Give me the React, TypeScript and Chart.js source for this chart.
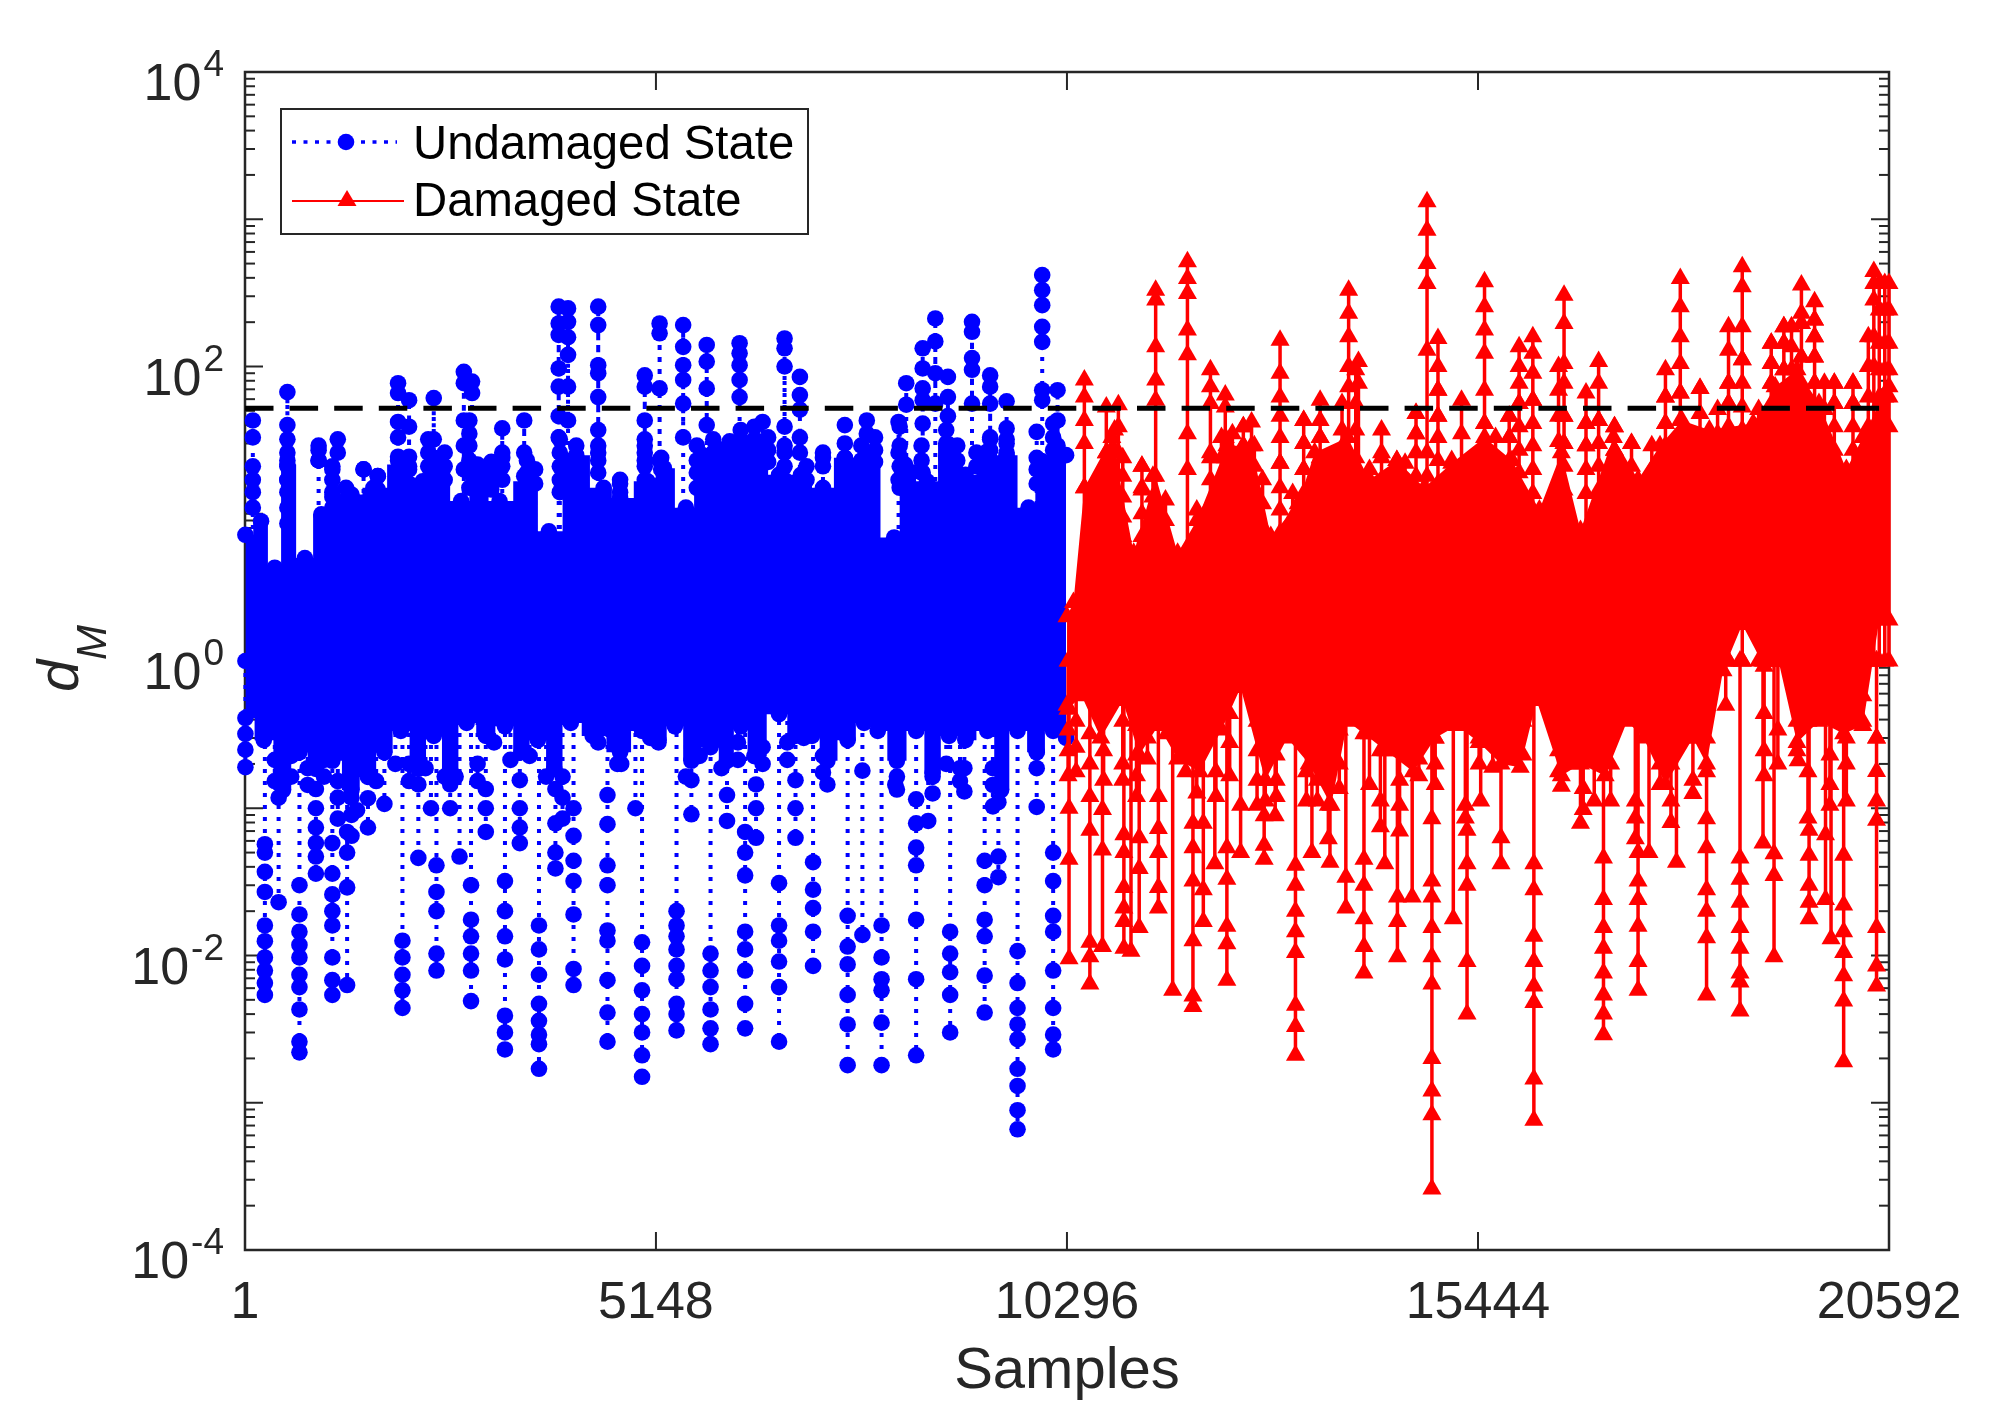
import React, { useEffect, useRef } from "react";
import { Chart, registerables } from "chart.js";

Chart.register(...registerables);

const seriesNames = ["Undamaged State", "Damaged State"];
const xTicks = [1, 5148, 10296, 15444, 20592];
const yTickExponents = [4, 2, 0, -2, -4];
const threshold = 52;

// Dense part of each record: outer edge of the solid band.
const undamagedBandUpperX = [6,202,374,532,751,957,1163,1335,1609,1953,2227,2433,2708,2914,3189,3532,3807,4150,4493,4699,5042,5248,5523,5729,6072,6416,6690,6965,7240,7514,7789,8132,8269,8544,8819,9025,9299,9540,9814,9986,10192,10285];
const undamagedBandUpperY = [7.2,8.9,4.3,21.6,5,9.9,11.5,13.5,15,21.6,16.6,22.7,12.2,21.6,12.2,16.6,7.6,25,15,12.8,16.6,20.4,11,25,31,31,18.4,18.4,15,24,25,6.9,21.6,16.6,29.5,18.4,26.5,25,11,22.7,25,25];
const undamagedBandLowerX = [6,236,477,683,889,1095,1335,1541,1747,1953,2172,2365,2571,2777,3017,3257,3463,3669,3875,4081,4356,4699,4974,5180,5386,5592,5832,6038,6210,6381,6690,6896,7102,7295,7549,7755,7926,8166,8407,8613,8819,9025,9299,9471,9677,9917,10123,10285];
const undamagedBandLowerY = [.41,.29,.133,.24,.185,.21,.133,.163,.24,.335,.185,.31,.163,.38,.31,.36,.24,.29,.185,.38,.31,.24,.335,.29,.36,.21,.26,.21,.36,.226,.435,.31,.31,.21,.29,.38,.335,.21,.335,.173,.31,.29,.335,.133,.335,.24,.335,.3];
const damagedBandUpperX = [10297,10377,10514,10858,11132,11407,11682,11922,12299,12608,12849,13192,13398,13810,14085,14428,14771,15115,15526,15870,16213,16488,16728,17140,17449,17724,17998,18342,18891,19165,19440,19715,20058,20264,20470,20592];
const damagedBandUpperY = [2,2.5,15,33,5.4,18,5.4,9,29,29,7,11.7,26,33,17,23,15,22,33,23,10.6,26,7.7,33,17,29,43,37,41,73,95,56,20,33,56,73];
const damagedBandLowerX = [10297,10308,10480,10720,10995,11201,11441,11682,11956,12231,12471,12780,13055,13329,13604,13810,14016,14291,14634,14908,15183,15458,15732,15973,16179,16488,16728,17037,17312,17518,17792,18136,18307,18513,18754,19028,19200,19440,19715,20024,20264,20470,20592];
const damagedBandLowerY = [.5,.47,.58,.30,.54,.23,.365,.216,.177,.34,.66,.155,.30,.20,.105,.39,.32,.246,.177,.30,.365,.28,.20,.19,.54,.166,.20,.166,.39,.30,.145,.30,.20,.86,1.77,.92,1.05,.28,.39,.32,.365,1.9,1.9];

// Excursions below the band: sample of the excursion, then the readings along it.
const undamagedLowX = [6,250,422,683,889,1095,1280,1541,1747,1884,1973,2172,2330,2399,2571,2688,2832,3017,3257,3443,3683,3889,4116,4541,4713,4891,4974,5180,5406,5592,5832,6038,6265,6402,6690,6896,7116,7295,7549,7734,7974,8146,8407,8558,8833,9011,9265,9437,9677,9917,10123];
const undamagedLowY = [
  [.32,.25,.19],[.057,.05,.037,.027,.016,.0125,.0097,.0079,.0065,.0054],[.118,.023],
  [.03,.019,.0145,.0118,.0097,.0074,.0061,.0043,.0026,.0022],[.135,.1,.074,.058,.047,.036],
  [.058,.036,.026,.02,.016,.0097,.0068,.0054],[.069,.05,.029,.0063],[.117,.074],[.107],[.2],
  [.0126,.0097,.0074,.0058,.0044],[.145,.046],[.1],[.041,.027,.02,.0103,.0079],[.145,.1],[.047],
  [.03,.0175,.0135,.0103,.0079,.0049],[.135,.1,.069],[.032,.02,.0135,.0094,.0039,.003,.0023],
  [.155,.1,.074,.058],[.016,.011,.0074,.0047,.0036,.0029,.0025,.0017],[.135,.079,.05,.039],
  [.1,.065,.044,.032,.019,.0081,.0063],[.123,.078,.041,.03,.0148,.0126,.0068,.0041,.0026],[.2],[.1],
  [.0123,.0085,.0058,.004,.003,.0021,.0015],[.28],[.02,.016,.0135,.011,.0085,.0069,.0047,.004,.0031],
  [.155,.091],[.0103,.0079,.0061,.0043,.0032,.0025],[.123,.082],[.069,.05,.035,.0145,.011,.0079,.0047,.0032],
  [.145,.1,.063],[.031,.016,.0126,.0091,.0061,.0026],[.155,.1,.063],[.043,.028,.021,.0145,.0085],[.145],
  [.0186,.0115,.0087,.0054,.0034,.0018],[.18,.0138],[.016,.0097,.0069,.0058,.0035,.0018],[.145],
  [.115,.079,.054,.041,.0175,.0069,.0021],[.082],[.0145,.0103,.0077,.0054,.003],[.187,.13],
  [.044,.03,.0175,.0135,.0073,.0041],[.11,.047,.034],[.0107,.0065,.0044,.0034,.0027,.0017,.0013,.00089,.00066],
  [.102],[.05,.032,.0186,.0145,.0079,.0044,.0029,.0023],
];
const undamagedLowFringeX = [374,580,786,991,1163,1335,1404,1644,2056,2262,2502,2639,2914,3120,3326,3566,3772,3978,4425,4665,5077,5523,5695,5969,6175,6484,6793,6999,7240,8166,8613,8784,8956,9368,9917];
const undamagedLowFringeY = [
  [.213,.153],[.227,.164],[.187,.144],[.213,.164],[.153,.118,.085],[.118,.09,.065],[.097],[.153],[.2,.153],[.187],
  [.164],[.164],[.2,.153],[.28],[.213],[.227],[.164],[.164,.118,.085],[.28],[.2],[.3],[.164],[.227],[.187],
  [.28,.213],[.26,.2],[.28,.213],[.3],[.227,.175],[.164,.134],[.164,.126],[.2],[.187,.153],[.187,.144,.103],[.243,.187],
];

// Excursions above the band.
const undamagedHighX = [99,532,923,1095,1163,1486,1664,1918,2056,2365,2742,2845,3086,3223,3498,3930,4047,4425,4699,5008,5194,5489,5784,6196,6484,6759,6951,7240,7514,7789,8187,8283,8489,8647,8805,9107,9334,9540,9917,9986,10178];
const undamagedHighY = [
  [43,33],[67,40,32,23,17],[27,23],[20,13],[32,26],[20],[18],[77,66,42,33,23],[59,39,21],[61,32,24],
  [92,77,43,29,20],[79,66],[20],[38,24],[43,26,18],[255,196,164,97,73,46,33],[248,201,158,120,73,43],
  [255,191,102,90,62,37,26],[16],[87,73,43,29,23],[196,168,71,23],[191,136,102,81,56,33],[140,108,71,40],
  [144,123,102,81,62],[42],[155,133,100,39,29],[85,64,51,33,26],[24],[40],[43,35],[42,26,17],[77,55],
  [133,97,71,59,41,19],[212,148,90,56],[85,62,46],[201,172,114,95,56],[87,73,56,32],[58,38,30],[36],
  [418,330,261,186,147,69,59],[69,43,29],
];
const undamagedHighFringeX = [99,532,923,1095,1266,1486,1664,1918,2056,2296,2502,2811,3086,3223,3532,3635,3944,4150,4425,4699,5008,5214,5660,5866,6210,6381,6553,6759,7034,7240,7514,7720,7892,8201,8475,8784,8922,9162,9334,9540,9917,10123];
const undamagedHighFringeY = [
  [21,17,14,11],[26,21,17,14,11,8.6],[29,23],[21,17,14,11],[15,12.4,10],[20],[18,14.6],[24.4,20,16],[24.4,20,16,13],
  [32,26,21,17],[26,21,17],[43,35,29,23,19,15],[22.5,18,14.6],[26,21,17],[23,19,15,12.4],[20,16],[32,26,21,17,14],
  [29,23,19,15],[29,23,19],[17,14],[32,26,21,17],[24,20,16],[29,23,19,15],[32,26,21],[37,32,26,21],[39,32,26,21],
  [33,27,22.5],[26,21,17],[21,17],[26,21],[30,24,20],[29,23,19],[33,27,22.5],[39,29,21,15],[29,23,19],[37,30,24,20],
  [29,23,19],[26,21],[33,27,22.5],[32,26,21],[24,20,16],[41,33,27,22.5],
];

const damagedLowX = [10322,10583,10741,11009,11098,11201,11441,11620,11874,12004,12148,12299,12471,12766,12904,13158,13364,13590,13789,14016,14277,14435,14620,14867,15135,15307,15478,15732,16144,16488,16728,17016,17449,17586,17930,18136,18307,18547,18726,19014,19152,19454,19591,19797,19866,20024,20436];
const damagedLowY = [
  [.1,.045,.0095],[.12,.071,.0123,.0098,.0064],[.098,.052,.0115],[.066,.05,.029,.021,.017,.0112],[.0107],
  [.063,.039,.0155],[.12,.073,.05,.029,.021],[.0058],[.079,.054,.032,.0126,.0053,.0045],[.079,.028,.017],[.042],
  [.054,.033,.0158,.012,.0068],[.105,.05],[.089,.056,.045],[.089],[.041,.03,.02,.0145,.0105,.0046,.0033,.0021],
  [.05],[.043],[.034,.021],[.045,.03,.0178,.0115,.0076],[.042],[.025,.017,.0098],[.025],
  [.085,.032,.025,.0155,.0098,.0064,.002,.0012,.00083,.00026],[.0178],[.071,.042,.03,.0091,.004],[.112],[.063,.042],
  [.042,.028,.0135,.0091,.0062,.0048,.00145,.00076],[.141],[.079],[.046,.024,.0155,.0112,.0076,.0054,.004,.0029],
  [.05,.032,.024,.0158,.0091,.0058],[.05],[.043],[.126],[.085,.054,.028,.02,.0132,.0054],[.5],
  [.046,.033,.023,.0155,.0112,.0076,.0066,.0042],[.058],[.049,.035,.0098],[.21],[.071,.048,.03,.023,.0178],
  [.066,.024],[.013],[.048,.022,.0145,.0105,.0073,.0049,.0019],[.3,.178,.112,.083,.0155,.0085,.0062],
];
const damagedLowFringeX = [10310,10411,10583,10755,10995,11167,11304,11544,11784,11922,12162,12334,12677,12780,12917,13295,13432,13570,13707,14085,14222,14462,14703,14908,15286,15458,15629,15835,16007,16453,16591,16762,16900,17106,17312,17415,17724,17861,18136,18307,19028,19200,19440,19577,19852,20058,20264,20436];
const damagedLowFringeY = [
  [.34,.246,.166],[.39,.26,.177],[.32,.20],[.246,.155],[.39,.20,.155],[.365,.23,.166,.12],[.30,.216],[.32],[.39,.177],
  [.28,.127],[.39,.177,.12],[.44,.28,.166],[.39,.246,.155,.105],[.41,.26,.155,.112],[.39,.23,.155,.12],[.34,.177,.112],
  [.39,.23,.155,.112],[.20,.105,.062],[.34,.20,.136],[.32,.145],[.246,.112,.075],[.246,.155,.105,.07],[.216,.166],
  [.30,.20,.145],[.105,.086],[.30,.20],[.44,.28,.19],[.44,.30,.216],[.39,.23],[.246,.177],[.30,.20],[.23,.136,.098],
  [.28,.112],[.20,.112],[.58,.44],[.112,.086,.062],[.34,.20,.145],[.20,.112,.08],[.44,.30,.155],[.30,.177],
  [.44,.246,.166],[.34,.20],[.39,.246],[.39,.177,.086],[.23,.145,.105],[.30,.20,.112],[.58,.39],[.30],
];
const damagedHighX = [10514,10789,10940,11235,11407,11805,12093,12279,12505,12608,12965,13261,13467,13824,13947,14236,14668,14806,14943,15238,15526,15835,15959,16131,16522,16797,16955,17154,17367,17792,17978,18225,18582,18754,19117,19275,19495,19660,19907,20141,20402,20539];
const damagedHighY = [
  [81,62,43,30,15],[53,26],[55,39,26],[21,15],[330,283,136,81,59],[514,396,313,177,120,35,20],[95,73,56,26],
  [64,53,33,24],[39,29],[42],[151,90,62,46,33,22],[43,30,20],[59,43,33],[330,230,159,100,73],[108,77],[37,26],
  [48,35],[1315,843,500,366,129],[155,100,69,46],[59,35],[377,255,177,123,69,41],[46,33],[136,100,77,56],
  [159,123,90,59],[305,196,105,77,46,30],[66,41,29],[108,77,43],[39,27],[30],[95,62,41],[396,255,159,105,66],[71],
  [186,129,77,56],[475,348,186,111],[144,105,77],[186,144,95],[357,230,196,116],[275,207,159,116,77],[77,56],[77,56],
  [441,366,283,159,100],[366,242,144,95,62],
];
const damagedHighFringeX = [10686,10789,10892,10995,11235,11373,11530,11922,12093,12231,12368,12505,12643,12746,12965,13123,13261,13467,13604,13741,13913,14085,14236,14428,14531,14668,14806,14943,15115,15286,15526,15664,15835,15959,16131,16453,16522,16797,16955,17154,17367,17621,17792,17978,18225,18445,18582,18754,18959,19117,19275,19371,19495,19660,19783,19907,20141,20333,20470,20592];
const damagedHighFringeY = [
  [11.7,8.6,6.3],[26,20,14.5,10.6,7.7],[37,27,20,14.5,10.6,7.7],[24,18,13,9.5,7],[21,14.5,10,7],[18,13,9.5,7],[12.4,9,6.6,4.9],
  [10.6,7.4,5.1],[24,17,11.7,8.2],[33,24,17,11.7,8.2],[35,26,18,12.4],[39,29,20,14.5,10],[29,21,15,11.2,7.7],[17,11.7,8.2],
  [22,15,10.6,7.4],[13.7,9.5,6.6],[43,30,20,13.7,9.5,6.6],[33,24,17,11.7],[22,15,10.6],[56,37,26,18,12.4],[95,56,37,24,16,10.6],
  [20,13.7,9.5],[24,17,11.7],[23,16,11.2],[22,15],[48,35,26,18,12.4],[26,18,12.4,8.6],[69,46,33,23,16],[23,16,11.2],[21,14.5,10],
  [41,29,20,13.7],[33,23,16],[46,33,23,16],[56,39,27,19],[59,41,29,20,13.7],[100,69,46,31],[46,30,21,14.5,10],[41,29,20,13.7],
  [43,30,21,14.5],[39,27,19,13],[30,21,14.5],[29,20,13.7,9.5],[62,41,29,20],[66,43,29,20],[71,48,33,23],[51,35,24],[77,56,39,27],
  [111,77,53,37],[51,35],[144,105,77,53],[186,144,95,62],[186,136,95,66],[196,116,77,53],[207,159,116,77,51],[77,51,33],[77,56,39,27],
  [77,56,39,27],[159,100,62,39],[366,242,144,95,62,39],[366,242,144,95,62,39],
];

const BLUE = "#0000ff";
const RED = "#ff0000";
const AXIS = "#262626";
const FONT = '"Liberation Sans", Arial, sans-serif';
const CIRCLE_RADIUS = 8.3;
const TRIANGLE_RADIUS = 11;

const toPoints = (xs: number[], ys: number[]) => xs.map((x, i) => ({ x, y: ys[i] }));
// Each excursion leaves the band (value 1 sits inside it) and is then broken off.
const toExcursions = (xs: number[], ys: number[][]) =>
  xs.flatMap((x, i) => [{ x, y: 1 }, ...ys[i].map((y) => ({ x, y })), { x, y: null as any }]);

const axesPlugin = {
  id: "matlabAxes",
  beforeDatasetsDraw(chart: any) {
    const { ctx, chartArea: a, scales } = chart;
    ctx.save();
    ctx.strokeStyle = AXIS;
    ctx.lineWidth = 2;
    const line = (x1: number, y1: number, x2: number, y2: number) => {
      ctx.beginPath();
      ctx.moveTo(x1, y1);
      ctx.lineTo(x2, y2);
      ctx.stroke();
    };
    for (const t of xTicks) {
      const x = scales.x.getPixelForValue(t);
      line(x, a.bottom, x, a.bottom - 18);
      line(x, a.top, x, a.top + 18);
    }
    for (let e = -4; e <= 4; e++) {
      for (let m = 1; m <= 9; m++) {
        if (e === 4 && m > 1) continue;
        const y = scales.y.getPixelForValue(m * Math.pow(10, e));
        const len = m === 1 ? 18 : 10;
        line(a.left, y, a.left + len, y);
        line(a.right, y, a.right - len, y);
      }
    }
    ctx.lineWidth = 2.5;
    ctx.strokeRect(a.left, a.top, a.right - a.left, a.bottom - a.top);
    ctx.restore();
  },
  afterDraw(chart: any) {
    const { ctx, scales } = chart;
    ctx.save();
    ctx.fillStyle = AXIS;
    ctx.textBaseline = "alphabetic";
    // y tick labels with a raised exponent
    for (const e of yTickExponents) {
      const y = scales.y.getPixelForValue(Math.pow(10, e));
      ctx.textAlign = "right";
      ctx.font = `37px ${FONT}`;
      const sup = String(e);
      ctx.fillText(sup, 224, y + 4);
      const w = ctx.measureText(sup).width;
      ctx.font = `52px ${FONT}`;
      ctx.fillText("10", 224 - w - 2, y + 28);
    }
    // y title: d with subscript M, rotated
    ctx.save();
    ctx.translate(78, 692);
    ctx.rotate(-Math.PI / 2);
    ctx.textAlign = "left";
    ctx.font = `italic 58px ${FONT}`;
    ctx.fillText("d", 0, 0);
    ctx.restore();
    ctx.save();
    ctx.translate(106, 660);
    ctx.rotate(-Math.PI / 2);
    ctx.textAlign = "left";
    ctx.font = `italic 42px ${FONT}`;
    ctx.fillText("M", 0, 0);
    ctx.restore();
    // legend
    ctx.fillStyle = "#ffffff";
    ctx.fillRect(281, 109, 527, 125);
    ctx.strokeStyle = AXIS;
    ctx.lineWidth = 2;
    ctx.strokeRect(281, 109, 527, 125);
    ctx.strokeStyle = BLUE;
    ctx.lineWidth = 3.5;
    ctx.setLineDash([4, 7.5]);
    ctx.beginPath();
    ctx.moveTo(292, 142);
    ctx.lineTo(397, 142);
    ctx.stroke();
    ctx.setLineDash([]);
    ctx.fillStyle = BLUE;
    ctx.beginPath();
    ctx.arc(346, 142, CIRCLE_RADIUS, 0, Math.PI * 2);
    ctx.fill();
    ctx.strokeStyle = RED;
    ctx.lineWidth = 2;
    ctx.beginPath();
    ctx.moveTo(292, 201);
    ctx.lineTo(404, 201);
    ctx.stroke();
    ctx.fillStyle = RED;
    ctx.beginPath();
    ctx.moveTo(347, 190);
    ctx.lineTo(356.5, 206);
    ctx.lineTo(337.5, 206);
    ctx.closePath();
    ctx.fill();
    ctx.fillStyle = "#000000";
    ctx.font = `47.3px ${FONT}`;
    ctx.textAlign = "left";
    ctx.fillText(seriesNames[0], 413, 159);
    ctx.fillText(seriesNames[1], 413, 216);
    ctx.restore();
  },
};

export default function App() {
  const ref = useRef<HTMLCanvasElement>(null);
  useEffect(() => {
    const base = { showLine: true, clip: false as any, borderWidth: 0, pointBorderWidth: 0, pointHoverRadius: 0 };
    const chart = new Chart(ref.current as any, {
      type: "line",
      data: {
        datasets: [
          { ...base, label: "Threshold", order: 0, data: toPoints([1, 20592], [threshold, threshold]), borderColor: "#000000", borderWidth: 5, borderDash: [28.5, 16.1], pointRadius: 0 },
          { ...base, label: seriesNames[1], order: 1, data: [...toExcursions(damagedLowX, damagedLowY), ...toExcursions(damagedLowFringeX, damagedLowFringeY), ...toExcursions(damagedHighX, damagedHighY), ...toExcursions(damagedHighFringeX, damagedHighFringeY)], borderColor: RED, borderWidth: 3.5, pointStyle: "triangle", pointRadius: TRIANGLE_RADIUS, pointBackgroundColor: RED, spanGaps: false },
          { ...base, label: seriesNames[1] + " (band, upper edge)", order: 2, data: toPoints(damagedBandUpperX, damagedBandUpperY), fill: "+1", backgroundColor: RED, pointStyle: "triangle", pointRadius: TRIANGLE_RADIUS, pointBackgroundColor: RED },
          { ...base, label: seriesNames[1] + " (band, lower edge)", order: 2, data: toPoints(damagedBandLowerX, damagedBandLowerY), pointStyle: "triangle", pointRadius: TRIANGLE_RADIUS, pointBackgroundColor: RED },
          { ...base, label: seriesNames[0], order: 4, data: [...toExcursions(undamagedLowX, undamagedLowY), ...toExcursions(undamagedLowFringeX, undamagedLowFringeY), ...toExcursions(undamagedHighX, undamagedHighY), ...toExcursions(undamagedHighFringeX, undamagedHighFringeY)], borderColor: BLUE, borderWidth: 4, borderDash: [4, 8], pointStyle: "circle", pointRadius: CIRCLE_RADIUS, pointBackgroundColor: BLUE, spanGaps: false },
          { ...base, label: seriesNames[0] + " (band, upper edge)", order: 5, stepped: "middle", data: toPoints(undamagedBandUpperX, undamagedBandUpperY), fill: "+1", backgroundColor: BLUE, pointStyle: "circle", pointRadius: CIRCLE_RADIUS, pointBackgroundColor: BLUE },
          { ...base, label: seriesNames[0] + " (band, lower edge)", order: 5, stepped: "middle", data: toPoints(undamagedBandLowerX, undamagedBandLowerY), pointStyle: "circle", pointRadius: CIRCLE_RADIUS, pointBackgroundColor: BLUE },
        ] as any,
      },
      options: {
        animation: false,
        responsive: false,
        devicePixelRatio: 1,
        layout: { padding: { top: 72, right: 101, left: 0, bottom: 0 } },
        plugins: { legend: { display: false }, tooltip: { enabled: false } },
        events: [],
        scales: {
          x: {
            type: "linear",
            min: 1,
            max: 20592,
            grid: { display: false, drawTicks: false },
            border: { display: false },
            afterBuildTicks: (s: any) => { s.ticks = xTicks.map((value) => ({ value })); },
            afterFit: (s: any) => { s.height = 176; },
            ticks: { autoSkip: false, maxRotation: 0, padding: 22, color: AXIS, font: { family: FONT, size: 52 }, callback: (v: any) => String(v) },
            title: { display: true, text: "Samples", color: AXIS, font: { family: FONT, size: 58 }, padding: { top: 0, bottom: 19 } },
          },
          y: {
            type: "logarithmic",
            min: 1e-4,
            max: 1e4,
            grid: { display: false },
            border: { display: false },
            ticks: { display: false },
            afterFit: (s: any) => { s.width = 245; },
          },
        },
      } as any,
      plugins: [axesPlugin],
    });
    return () => chart.destroy();
  }, []);
  return <canvas ref={ref} width={1990} height={1426} style={{ position: "absolute", left: 0, top: 0, display: "block" }} />;
}
